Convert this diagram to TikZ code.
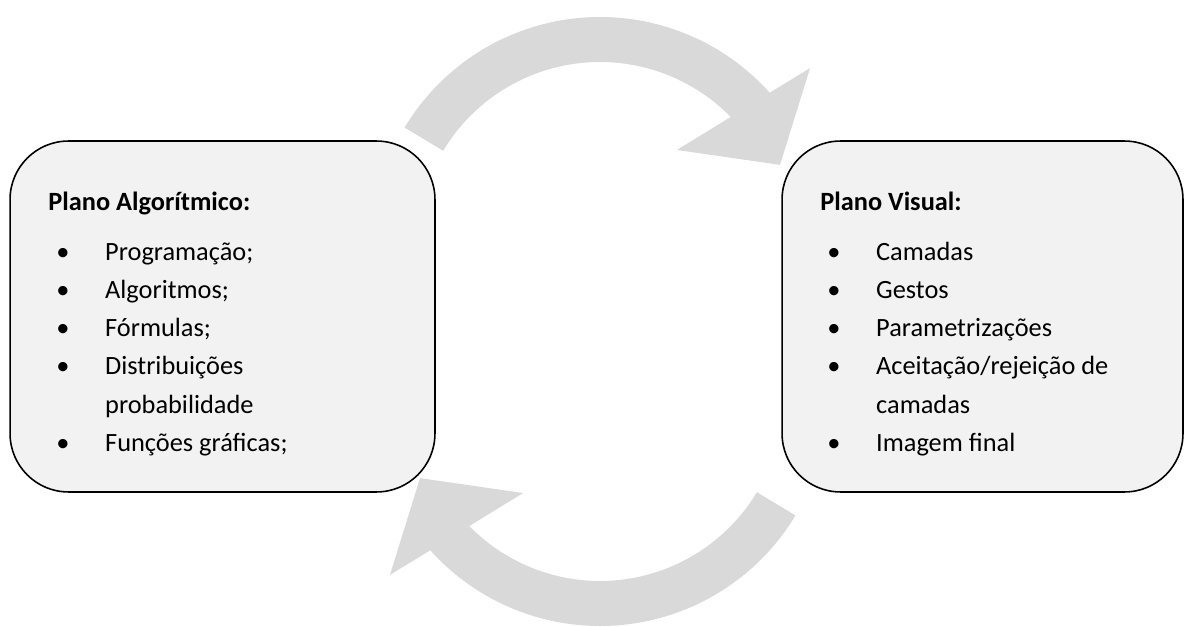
\documentclass[tikz,border=0pt]{standalone}
\usepackage{fontspec}
\setmainfont{Carlito}
\usetikzlibrary{positioning}

\definecolor{loopgray}{HTML}{D9D9D9}
\definecolor{planefill}{HTML}{F2F2F2}

\tikzset{
  plane/.style={draw=black, line width=0.9pt, fill=planefill, rounded corners=1.17cm,
    minimum width=#1, minimum height=7.02cm, inner sep=0pt},
  planetitle/.style={anchor=base west, inner sep=0pt, font=\bfseries\fontsize{15}{21.8}\selectfont},
  planelist/.style={anchor=base west, inner sep=0pt, font=\fontsize{15}{21.8}\selectfont}
}

\begin{document}
\begin{tikzpicture}[x=0.02cm, y=0.02cm]
    \useasboundingbox (0,0) rectangle (1185,626);

    % the two grey cycle arrows
    \foreach \cy/\turn in {381/0, 228/180}{
        \begin{scope}[shift={(600,\cy)}, rotate=\turn]
            \fill[loopgray] (149:228) arc[start angle=149, end angle=41.9, radius=228]
                -- (40.1:274.6) -- (24:197) -- (51:122.3) -- (44.4:183)
                arc[start angle=44.4, end angle=149, radius=183] -- cycle;
        \end{scope}
    }

    % left plane
    \node[plane=8.5cm] (alg) at (222.5,309.5) {};
    \node[planetitle] (algtitle) at (48,415) {Plano Algorítmico:};
    \node[planelist] (alglist) at (56,366) {\begin{tabular}[t]{@{}p{27.8pt}@{}l@{}}
        \textbullet & Programação;\\
        \textbullet & Algoritmos;\\
        \textbullet & Fórmulas;\\
        \textbullet & Distribuições\\
                    & probabilidade\\
        \textbullet & Funções gráficas;
    \end{tabular}};

    % right plane
    \node[plane=8.02cm] (vis) at (982.5,309.5) {};
    \node[planetitle] (vistitle) at (820,415) {Plano Visual:};
    \node[planelist] (vislist) at (827,366) {\begin{tabular}[t]{@{}p{27.8pt}@{}l@{}}
        \textbullet & Camadas\\
        \textbullet & Gestos\\
        \textbullet & Parametrizações\\
        \textbullet & Aceitação/rejeição de\\
                    & camadas\\
        \textbullet & Imagem final
    \end{tabular}};
\end{tikzpicture}
\end{document}
